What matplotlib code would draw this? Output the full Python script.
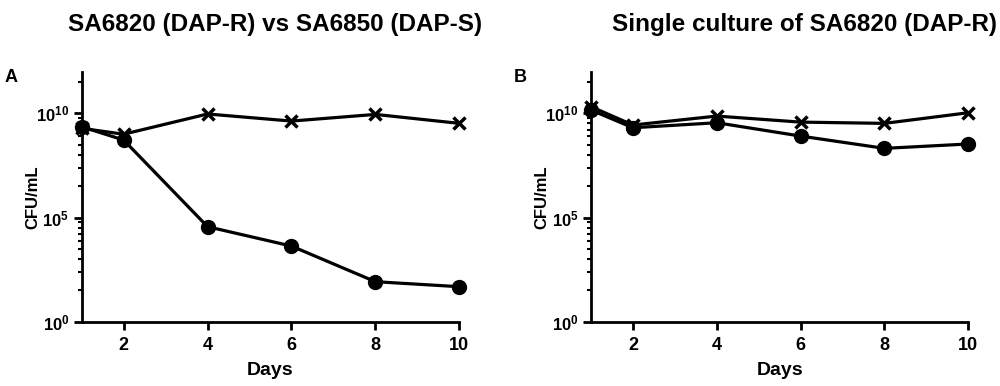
import numpy as np
import matplotlib
matplotlib.use("Agg")
import matplotlib.pyplot as plt
from matplotlib.ticker import FixedLocator, NullFormatter

plt.rcParams["font.family"] = ["Liberation Sans", "DejaVu Sans"]
plt.rcParams["mathtext.fontset"] = "custom"
plt.rcParams["mathtext.bf"] = "Liberation Sans:bold"
plt.rcParams["mathtext.rm"] = "Liberation Sans:bold"

days = [1, 2, 4, 6, 8, 10]

# panel A: co-culture, log10 CFU/mL
a_cross = [9.28, 9.0, 9.97, 9.63, 9.95, 9.52]
a_circle = [9.36, 8.72, 4.56, 3.63, 1.92, 1.68]

# panel B: single culture
b_cross = [10.32, 9.44, 9.87, 9.58, 9.52, 10.03]
b_circle = [10.16, 9.31, 9.55, 8.91, 8.32, 8.53]

titles = ["SA6820 (DAP-R) vs SA6850 (DAP-S)", "Single culture of SA6820 (DAP-R)"]
panel_labels = ["A", "B"]
xticks = [2, 4, 6, 8, 10]

fig = plt.figure(figsize=(10, 3.86), dpi=100)
W, H = 1000, 386
boxes = [(81.7, 459.3), (591, 968.3)]
bottom, top = 321.7, 71.7

# GraphPad style minors: 10^(5*log10 k) inside each 5-decade band
minors = []
for base in [0, 5, 10]:
    for k in range(2, 10):
        e = base + 5 * np.log10(k)
        if e < 12:
            minors.append(10 ** e)

series = [(a_cross, a_circle), (b_cross, b_circle)]
for i, (x0, x1) in enumerate(boxes):
    ax = fig.add_axes([x0 / W, 1 - bottom / H, (x1 - x0) / W, (bottom - top) / H])
    cross, circle = series[i]
    ax.plot(days, 10 ** np.array(cross), color="black", lw=2.3, marker="x",
            ms=8, mew=2.5, clip_on=False, zorder=3)
    ax.plot(days, 10 ** np.array(circle), color="black", lw=2.3, marker="o",
            ms=10, clip_on=False, zorder=3)
    ax.set_yscale("log")
    ax.set_ylim(1, 1e12)
    ax.set_xlim(1, 10)
    ax.set_yticks([1, 1e5, 1e10])
    ax.set_yticklabels([r"$\mathbf{10^{0}}$", r"$\mathbf{10^{5}}$", r"$\mathbf{10^{10}}$"],
                       fontsize=12)
    ax.yaxis.set_minor_locator(FixedLocator(minors))
    ax.yaxis.set_minor_formatter(NullFormatter())
    ax.set_xticks(xticks)
    ax.set_xticklabels([str(t) for t in xticks], fontsize=13, fontweight="bold")
    for s in ["top", "right"]:
        ax.spines[s].set_visible(False)
    for s in ["left", "bottom"]:
        ax.spines[s].set_linewidth(2)
    ax.tick_params(axis="both", which="major", width=2, length=6)
    ax.tick_params(axis="x", which="major", pad=5)
    ax.tick_params(axis="y", which="major", pad=3)
    ax.tick_params(axis="y", which="minor", width=1.5, length=3)
    ax.set_xlabel("Days", fontsize=14, fontweight="bold", labelpad=6)
    ax.set_ylabel("CFU/mL", fontsize=12, fontweight="bold")
    ax.yaxis.set_label_coords((40 - 81.7) / (x1 - x0), 0.5)
    fig.text((x0 - 77) / W, 1 - 78 / H, panel_labels[i], fontsize=13,
             fontweight="bold", va="center", ha="left")

fig.text(275 / W, 1 - 25 / H, titles[0], fontsize=17.5, fontweight="bold",
         ha="center", va="center")
fig.text(805 / W, 1 - 25 / H, titles[1], fontsize=17.5, fontweight="bold",
         ha="center", va="center")

fig.savefig("out.png", dpi=100)
